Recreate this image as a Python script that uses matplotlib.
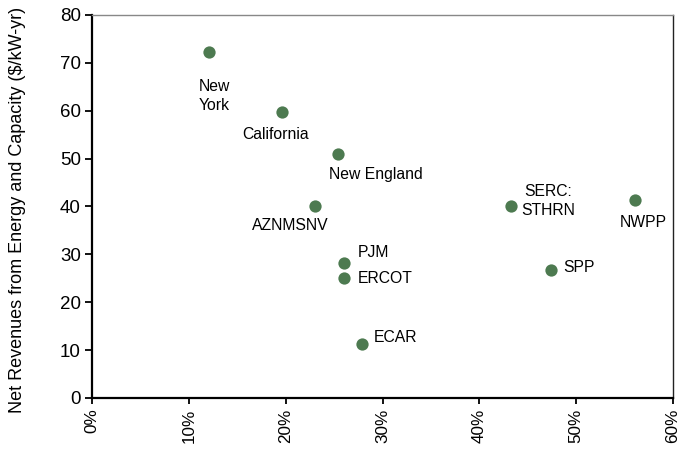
import matplotlib
matplotlib.use("Agg")
import matplotlib.pyplot as plt
from matplotlib.ticker import FuncFormatter

plt.rcParams['font.family'] = ['Liberation Sans', 'DejaVu Sans']

regions = ["New\nYork", "California", "New England", "AZNMSNV", "PJM", "ERCOT",
           "ECAR", "SERC:\nSTHRN", "SPP", "NWPP"]
share = [12.1, 19.6, 25.4, 23.0, 26.0, 26.0, 27.9, 43.3, 47.4, 56.1]
revenue = [72.2, 59.7, 50.9, 40.1, 28.2, 25.1, 11.3, 40.1, 26.7, 41.3]
# label offsets in points and alignment
offsets = [(3.6, -31.5), (-4.3, -15.8), (27.4, -14.4), (-17.3, -13.7), (10, 7.2),
           (10, -0.7), (8.6, 4.3), (26.6, 3.6), (8.6, 2.2), (5.8, -15.8)]
aligns = ['center', 'center', 'center', 'center', 'left', 'left',
          'left', 'center', 'left', 'center']

fig = plt.figure(figsize=(6.9, 4.51), dpi=100)
ax = fig.add_axes([92/690, 53/451, 581/690, 383/451])

ax.scatter(share, revenue, s=78, color='#4d7a50', zorder=3, linewidths=0)

for name, x, y, off, ha in zip(regions, share, revenue, offsets, aligns):
    ax.annotate(name, (x, y), xytext=off, textcoords='offset points',
                ha=ha, va='center', fontsize=11.3, linespacing=1.38)

ax.set_xlim(0, 60)
ax.set_ylim(0, 80)
ax.set_xticks(range(0, 61, 10))
ax.set_yticks(range(0, 81, 10))
ax.xaxis.set_major_formatter(FuncFormatter(lambda v, p: f"{int(v)}%"))
ax.tick_params(axis='x', labelrotation=90, labelsize=12.3, length=4.5, width=1.3,
               direction='out', pad=3)
ax.tick_params(axis='y', labelsize=13.5, length=5, width=1.3, direction='out', pad=3)

ax.spines['left'].set_linewidth(1.6)
ax.spines['bottom'].set_linewidth(1.6)
ax.spines['top'].set_linewidth(1.0)
ax.spines['top'].set_color('#888888')
ax.spines['right'].set_linewidth(1.0)
ax.spines['right'].set_color('#222222')

ax.set_ylabel("Net Revenues from Energy and Capacity ($/kW-yr)", fontsize=13)
ax.yaxis.set_label_coords(-0.113, 0.49)

fig.savefig("out.png", dpi=100)
